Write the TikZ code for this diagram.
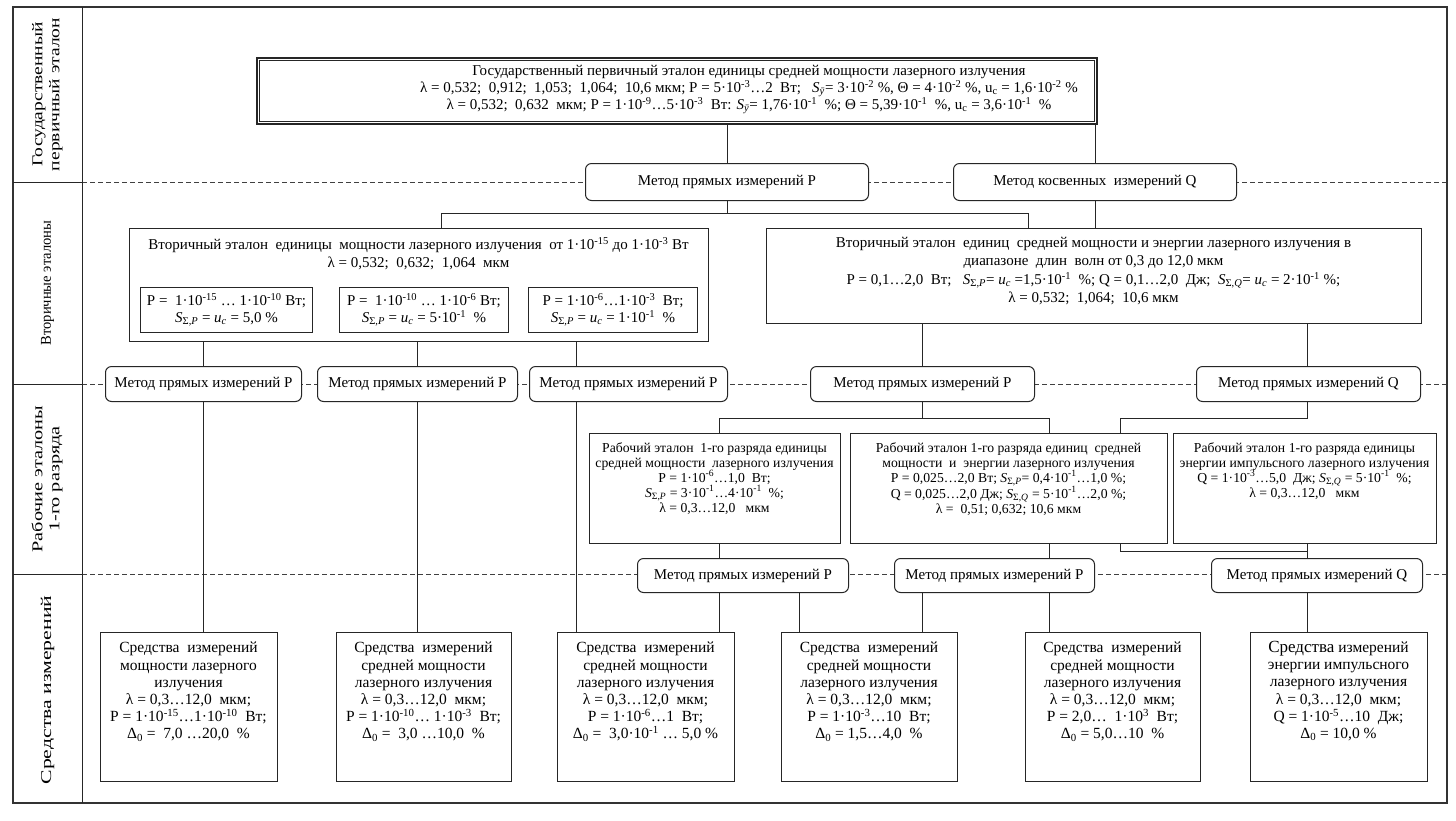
\documentclass[tikz,border=0pt]{standalone}
\usepackage{fontspec}
\setmainfont{Liberation Serif}
\pgfdeclarelayer{background}
\pgfsetlayers{background,main}
\newcommand\pw[1]{\textsuperscript{#1}}
\newcommand\SSP{\textit{S}\textsubscript{Σ,\textit{P}}}
\newcommand\SSQ{\textit{S}\textsubscript{Σ,\textit{Q}}}
\newcommand\ucx{\textit{u}\textsubscript{\textit{c}}}
\newcommand\ucu{u\textsubscript{c}}
\newcommand\Sy{\textit{S}\textsubscript{\textit{ȳ}}}
\newcommand\BX[7]{\node[#6, anchor=north west, minimum width={(#4-#2)*1pt}, minimum height={(#5-#3)*1pt}] (#1) at (#2,#3) {#7};}
\newcommand\lines[1]{\begin{tabular}{@{}c@{}}#1\end{tabular}}
\begin{document}
\begin{tikzpicture}[x=1pt,y=-1pt,
  ln/.style={line width=0.9pt, draw=black!85},
  fr/.style={line width=1.3pt, draw=black!80},
  dl/.style={line width=0.8pt, draw=black!75, dash pattern=on 5pt off 3pt},
  bx/.style={draw=black!85, line width=1pt, fill=white, rectangle, inner sep=0pt, align=center, font=\fontsize{15}{16.5}\selectfont},
  bxd/.style={bx, line width=1.6pt},
  mb/.style={draw=black!85, line width=1pt, fill=white, rounded corners=6pt, inner sep=0pt, font=\fontsize{15}{16.5}\selectfont},
  tx/.style={align=center, inner sep=0pt, font=\fontsize{15}{17}\selectfont},
  ts/.style={align=center, inner sep=0pt, font=\fontsize{15}{18.5}\selectfont},
  tw/.style={align=center, inner sep=0pt, font=\fontsize{13.7}{15}\selectfont},
  tb/.style={align=center, inner sep=0pt, font=\fontsize{15.5}{17.2}\selectfont},
  lab/.style={align=center, inner sep=0pt, font=\fontsize{15}{17}\selectfont},
]
\useasboundingbox (0,0) rectangle (1456,820);

% frame and label column
\draw[fr] (13,7) rectangle (1447,803);
\draw[ln] (82,7) -- (82,803);
\foreach \yy in {182,384,574} \draw[ln] (13,\yy) -- (82,\yy);
\node[lab, rotate=90] (L1) at (47.5,94.5) {\scalebox{1.3}[1]{\lines{Государственный\\первичный эталон}}};
\node[lab, rotate=90] (L2) at (47.5,283) {\scalebox{0.97}[1]{Вторичные эталоны}};
\node[lab, rotate=90] (L3) at (47.5,479) {\scalebox{1.35}[1]{\lines{Рабочие эталоны\\1-го разряда}}};
\node[lab, rotate=90] (L4) at (47.5,690) {\scalebox{1.45}[1]{Средства измерений}};

% top box
\BX{T}{256}{57}{1096}{123}{bxd}{}
\draw[line width=0.8pt, draw=black!85] ([shift={(3.5pt,-3.5pt)}]T.north west) rectangle ([shift={(-3.5pt,3.5pt)}]T.south east);
\node[tx, anchor=north] (Tt) at (749,65) {Государственный первичный эталон единицы средней мощности лазерного излучения\\
λ = 0,532;~ 0,912;~ 1,053;~ 1,064;~ 10,6 мкм; P = 5·10\pw{-3}…2~ Вт;~~ \Sy= 3·10\pw{-2} \%, Θ = 4·10\pw{-2} \%, \ucu\ = 1,6·10\pw{-2} \%\\
λ = 0,532;~ 0,632~ мкм; P = 1·10\pw{-9}…5·10\pw{-3}~ Вт: \Sy= 1,76·10\pw{-1}~ \%; Θ = 5,39·10\pw{-1}~ \%, \ucu\ = 3,6·10\pw{-1}~ \%};

% row 1 methods
\BX{MP1}{585}{163}{868}{200}{mb}{Метод прямых измерений P}
\BX{MQ1}{953}{163}{1236}{200}{mb}{Метод косвенных~ измерений Q}

% secondary standards
\BX{S1}{129}{228}{708}{341}{bx}{}
\node[ts, anchor=north] (S1t) at (418.5,237) {Вторичный эталон~ единицы~ мощности лазерного излучения~ от 1·10\pw{-15} до 1·10\pw{-3} Вт\\λ = 0,532;~ 0,632;~ 1,064~ мкм};
\BX{S1a}{140}{287}{312}{332}{bx}{P =~ 1·10\pw{-15} … 1·10\pw{-10} Вт;\\\SSP\ = \ucx\ = 5,0 \%}
\BX{S1b}{339}{287}{508}{332}{bx}{P =~ 1·10\pw{-10} … 1·10\pw{-6} Вт;\\\SSP\ = \ucx\ = 5·10\pw{-1}~ \%}
\BX{S1c}{528}{287}{697}{332}{bx}{P = 1·10\pw{-6}…1·10\pw{-3}~ Вт;\\\SSP\ = \ucx\ = 1·10\pw{-1}~ \%}

\BX{S2}{766}{228}{1421}{323}{bx}{}
\node[ts, anchor=north] (S2t) at (1093.5,237) {Вторичный эталон~ единиц~ средней мощности и энергии лазерного излучения в\\
диапазоне~ длин~ волн от 0,3 до 12,0 мкм\\
P = 0,1…2,0~ Вт;~~ \SSP= \ucx\ =1,5·10\pw{-1}~ \%; Q = 0,1…2,0~ Дж;~ \SSQ= \ucx\ = 2·10\pw{-1} \%;\\
λ = 0,532;~ 1,064;~ 10,6 мкм};

% row 3 methods
\BX{MP3a}{105}{366}{301}{401}{mb}{Метод прямых измерений P}
\BX{MP3b}{317}{366}{517}{401}{mb}{Метод прямых измерений P}
\BX{MP3c}{529}{366}{727}{401}{mb}{Метод прямых измерений P}
\BX{MP3d}{810}{366}{1034}{401}{mb}{Метод прямых измерений P}
\BX{MQ3}{1196}{366}{1420}{401}{mb}{Метод прямых измерений Q}

% working standards
\BX{W1}{589}{433}{840}{543}{bx}{}
\node[tw, anchor=north] (W1t) at (714.5,442) {Рабочий эталон~ 1-го разряда единицы\\средней мощности~ лазерного излучения\\P = 1·10\pw{-6}…1,0~ Вт;\\\SSP\ = 3·10\pw{-1}…4·10\pw{-1}~ \%;\\λ = 0,3…12,0~~ мкм};
\BX{W2}{850}{433}{1167}{543}{bx}{}
\node[tw, anchor=north] (W2t) at (1008.5,442) {Рабочий эталон 1-го разряда единиц~ средней\\мощности~ и~ энергии лазерного излучения\\P = 0,025…2,0 Вт; \SSP= 0,4·10\pw{-1}…1,0 \%;\\Q = 0,025…2,0 Дж; \SSQ\ = 5·10\pw{-1}…2,0 \%;\\λ =~ 0,51; 0,632; 10,6 мкм};
\BX{W3}{1173}{433}{1436}{543}{bx}{}
\node[tw, anchor=north] (W3t) at (1304.5,442) {Рабочий эталон 1-го разряда единицы\\энергии импульсного лазерного излучения\\Q = 1·10\pw{-3}…5,0~ Дж; \SSQ\ = 5·10\pw{-1}~ \%;\\λ = 0,3…12,0~~ мкм};

% row 4 methods
\BX{MP4a}{637}{558}{848}{592}{mb}{Метод прямых измерений P}
\BX{MP4b}{894}{558}{1094}{592}{mb}{Метод прямых измерений P}
\BX{MQ4}{1211}{558}{1422}{592}{mb}{Метод прямых измерений Q}

% measuring instruments
\BX{B1}{100}{632}{277}{781}{bx}{}
\node[tb, anchor=north] (B1t) at (188.5,642) {Средства~ измерений\\мощности лазерного\\излучения\\λ = 0,3…12,0~ мкм;\\P = 1·10\pw{-15}…1·10\pw{-10}~ Вт;\\Δ\textsubscript{0} =~ 7,0 …20,0~ \%};
\BX{B2}{336}{632}{511}{781}{bx}{}
\node[tb, anchor=north] (B2t) at (423.5,642) {Средства~ измерений\\средней мощности\\лазерного излучения\\λ = 0,3…12,0~ мкм;\\P = 1·10\pw{-10}… 1·10\pw{-3}~ Вт;\\Δ\textsubscript{0} =~ 3,0 …10,0~ \%};
\BX{B3}{557}{632}{734}{781}{bx}{}
\node[tb, anchor=north] (B3t) at (645.5,642) {Средства~ измерений\\средней мощности\\лазерного излучения\\λ = 0,3…12,0~ мкм;\\P = 1·10\pw{-6}…1~ Вт;\\Δ\textsubscript{0} =~ 3,0·10\pw{-1} … 5,0 \%};
\BX{B4}{781}{632}{957}{781}{bx}{}
\node[tb, anchor=north] (B4t) at (869,642) {Средства~ измерений\\средней мощности\\лазерного излучения\\λ = 0,3…12,0~ мкм;\\P = 1·10\pw{-3}…10~ Вт;\\Δ\textsubscript{0} = 1,5…4,0~ \%};
\BX{B5}{1025}{632}{1200}{781}{bx}{}
\node[tb, anchor=north] (B5t) at (1112.5,642) {Средства~ измерений\\средней мощности\\лазерного излучения\\λ = 0,3…12,0~ мкм;\\P = 2,0…~ 1·10\pw{3}~ Вт;\\Δ\textsubscript{0} = 5,0…10~ \%};
\BX{B6}{1250}{632}{1427}{781}{bx}{}
\node[tb, anchor=north] (B6t) at (1338.5,641) {{\fontsize{17}{17}\selectfont Средства} измерений\\энергии импульсного\\лазерного излучения\\λ = 0,3…12,0~ мкм;\\Q = 1·10\pw{-5}…10~ Дж;\\Δ\textsubscript{0} = 10,0 \%};

% connectors (behind the boxes)
\coordinate (ja) at (441,213);
\coordinate (jb) at (1028,213);
\coordinate (xc) at (576,0);
\coordinate (xq) at (1307,0);
\coordinate (wa) at (719,418);
\coordinate (wb) at (1049,418);
\coordinate (q1) at (1120,418);
\coordinate (q2) at (1120,551);
\coordinate (xd) at (799,0);
\coordinate (xe) at (922,0);

\begin{pgfonlayer}{background}
\fill[white] (0,0) rectangle (1456,820);
\foreach \yy in {182,384,574} \draw[dl] (82,\yy) -- (1447,\yy);
\draw[ln] (MP1.north |- T.south) -- (MP1.north);
\draw[ln] (MQ1.north |- T.south) -- (MQ1.north);
\draw[ln] (MP1.south) -- (MP1.south |- ja);
\draw[ln] (S1.north -| ja) -- (ja) -- (jb) -- (S2.north -| jb);
\draw[ln] (MQ1.south) -- (MQ1.south |- S2.north);

\draw[ln] (MP3a.north |- S1.south) -- (MP3a.north);
\draw[ln] (MP3b.north |- S1.south) -- (MP3b.north);
\draw[ln] (S1.south -| xc) -- (MP3c.north -| xc);
\draw[ln] (MP3d.north |- S2.south) -- (MP3d.north);
\draw[ln] (S2.south -| xq) -- (MQ3.north -| xq);

\draw[ln] (MP3a.south) -- (MP3a.south |- B1.north);
\draw[ln] (MP3b.south) -- (MP3b.south |- B2.north);
\draw[ln] (MP3c.south -| xc) -- (B3.north -| xc);

\draw[ln] (MP3d.south) -- (MP3d.south |- wa);
\draw[ln] (W1.north -| wa) -- (wa) -- (wb) -- (W2.north -| wb);
\draw[ln] (MQ3.south -| xq) -- (q1 -| xq) -- (q1) -- (q2) -- (q2 -| xq);
\draw[ln] (W3.south -| xq) -- (MQ4.north -| xq);

\draw[ln] (W1.south -| wa) -- (MP4a.north -| wa);
\draw[ln] (W2.south -| wb) -- (MP4b.north -| wb);
\draw[ln] (MP4a.south -| wa) -- (B3.north -| wa);
\draw[ln] (MP4a.south -| xd) -- (B4.north -| xd);
\draw[ln] (MP4b.south -| xe) -- (B4.north -| xe);
\draw[ln] (MP4b.south -| wb) -- (B5.north -| wb);
\draw[ln] (MQ4.south -| xq) -- (B6.north -| xq);
\end{pgfonlayer}
\end{tikzpicture}
\end{document}
